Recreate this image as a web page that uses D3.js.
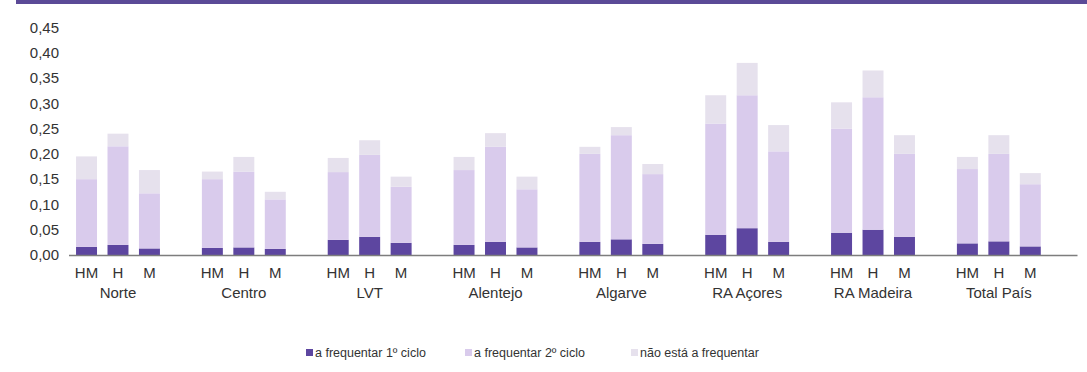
<!DOCTYPE html>
<html>
<head>
<meta charset="utf-8">
<script src="https://cdn.jsdelivr.net/npm/d3@7/dist/d3.min.js"></script>
<style>
html,body{margin:0;padding:0;background:#ffffff;}
svg{display:block;font-family:"Liberation Sans",Arial,sans-serif;}
</style>
</head>
<body>
<svg id="chart" width="1087" height="372"></svg>
<script>
const regions = ["Norte","Centro","LVT","Alentejo","Algarve","RA Açores","RA Madeira","Total País"];
const sexes = ["HM","H","M"];
const seriesNames = ["a frequentar 1º ciclo","a frequentar 2º ciclo","não está a frequentar"];
const yTicks = [0,0.05,0.10,0.15,0.20,0.25,0.30,0.35,0.40,0.45];

// values per region: [HM, H, M]
const ciclo1 = [
  [0.016,0.020,0.013],[0.014,0.015,0.012],[0.030,0.036,0.024],[0.020,0.026,0.015],
  [0.026,0.031,0.022],[0.040,0.053,0.026],[0.044,0.050,0.036],[0.023,0.027,0.017]
];
const ciclo2 = [
  [0.134,0.195,0.109],[0.136,0.150,0.098],[0.134,0.162,0.111],[0.148,0.188,0.115],
  [0.174,0.206,0.138],[0.220,0.263,0.179],[0.206,0.262,0.164],[0.147,0.173,0.123]
];
const naoFrequenta = [
  [0.045,0.025,0.046],[0.015,0.029,0.015],[0.028,0.029,0.020],[0.026,0.027,0.025],
  [0.014,0.016,0.020],[0.056,0.064,0.052],[0.052,0.053,0.037],[0.024,0.037,0.022]
];

const colors = ["#5d46a0","#d9cbec","#e6e1ed"];

const svg = d3.select("#chart");

// header band
svg.append("rect").attr("x",16).attr("y",0).attr("width",1071).attr("height",4).attr("fill","#5b4a97");

const x0 = d3.scaleBand().domain(regions).range([70.8,1077.5]).padding(0);
const x1 = d3.scaleBand().domain(["HM","H","M","_"]).range([0,x0.bandwidth()])
  .paddingInner(1/3).paddingOuter(1/6);
const y = d3.scaleLinear().domain([0,0.45]).range([255,27.5]);

const rows = [];
regions.forEach((r,i)=>sexes.forEach((s,j)=>{
  rows.push({region:r, sex:s, c1:ciclo1[i][j], c2:ciclo2[i][j], c3:naoFrequenta[i][j]});
}));
const stacked = d3.stack().keys(["c1","c2","c3"])(rows);

const gBars = svg.append("g");
stacked.forEach((layer,k)=>{
  gBars.selectAll(null).data(layer).enter().append("rect")
    .attr("x",d=>x0(d.data.region)+x1(d.data.sex))
    .attr("width",x1.bandwidth())
    .attr("y",d=>y(d[1]))
    .attr("height",d=>y(d[0])-y(d[1]))
    .attr("fill",colors[k]);
});

// y axis
const locale = d3.formatLocale({decimal:",",thousands:".",grouping:[3],currency:["","€"]});
const fmt = locale.format(".2f");
const yAxis = svg.append("g").attr("transform","translate(69,0)")
  .call(d3.axisLeft(y).tickValues(yTicks).tickFormat(fmt).tickSize(0).tickPadding(10));
yAxis.select(".domain").remove();
yAxis.selectAll("text").attr("font-size",15).attr("fill","#333").attr("font-family","Liberation Sans, Arial, sans-serif");

// x baseline
svg.append("line").attr("x1",69).attr("x2",x0.range()[1]).attr("y1",y(0)+0.5).attr("y2",y(0)+0.5)
  .attr("stroke","#7d7d7d").attr("stroke-width",1.5);

// inner category labels
regions.forEach(r=>{
  const g = svg.append("g").attr("transform",`translate(${x0(r)},${y(0)+12})`);
  const ax = d3.axisBottom(d3.scaleBand().domain(sexes).range([x1("HM"), x1("M")+x1.bandwidth()]).paddingInner(1/3).paddingOuter(0))
    .tickSize(0).tickPadding(0);
  g.call(ax);
  g.select(".domain").remove();
  g.selectAll("text").attr("font-size",15).attr("fill","#333").attr("dy","0.71em")
    .attr("font-family","Liberation Sans, Arial, sans-serif");
});

// region labels
svg.append("g").selectAll("text").data(regions).enter().append("text")
  .attr("x",d=>x0(d)+x1("H")+x1.bandwidth()/2)
  .attr("y",298)
  .attr("text-anchor","middle")
  .attr("font-size",15).attr("fill","#333")
  .text(d=>d);

// legend
const legendX = [306,465,631];
const lg = svg.append("g");
seriesNames.forEach((n,i)=>{
  lg.append("rect").attr("x",legendX[i]).attr("y",349).attr("width",7).attr("height",7).attr("fill",colors[i]);
  lg.append("text").attr("x",legendX[i]+9).attr("y",357).attr("font-size",12.5).attr("fill","#333").text(n);
});
</script>
</body>
</html>
